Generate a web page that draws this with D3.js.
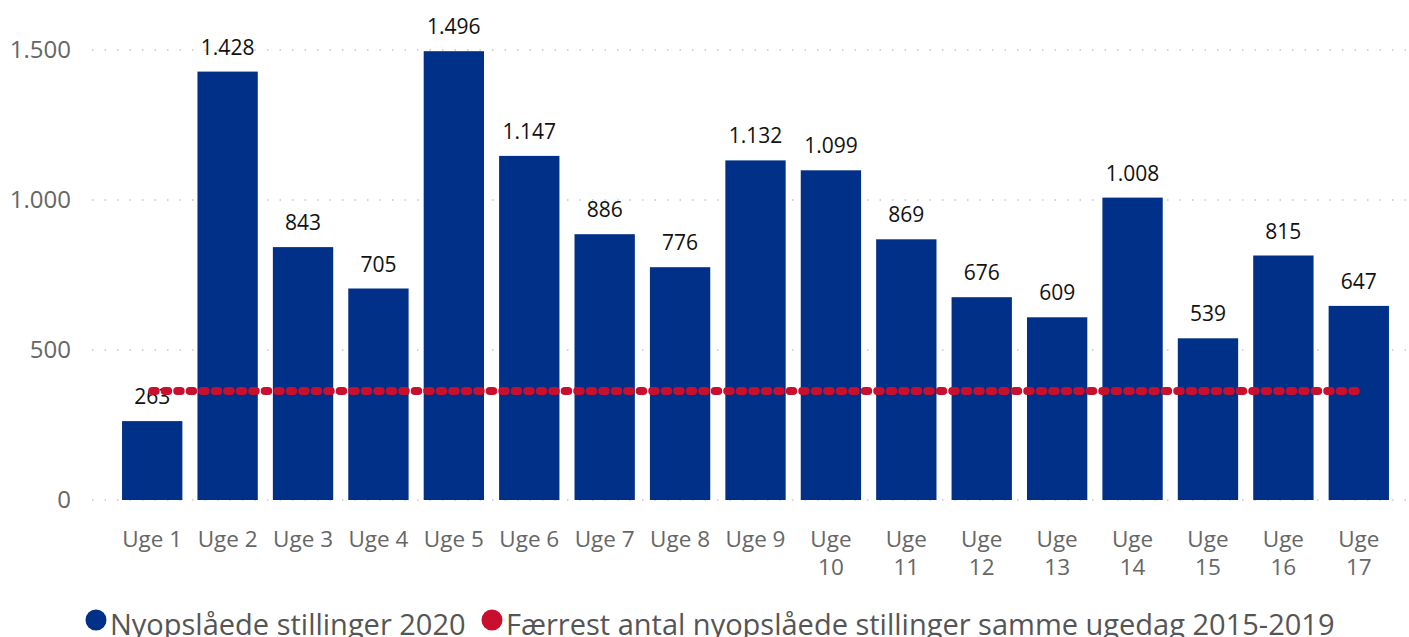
<!DOCTYPE html>
<html>
<head>
<meta charset="utf-8">
<script src="https://cdn.jsdelivr.net/npm/d3@7"></script>
<style>
  body { margin: 0; background: #fff; }
  svg { display: block; font-family: "Open Sans", "Noto Sans", sans-serif; }
</style>
</head>
<body>
<svg id="chart" width="1409" height="637"></svg>
<script>
// Data
const weeks = ['Uge 1', 'Uge 2', 'Uge 3', 'Uge 4', 'Uge 5', 'Uge 6', 'Uge 7', 'Uge 8', 'Uge 9',
               'Uge 10', 'Uge 11', 'Uge 12', 'Uge 13', 'Uge 14', 'Uge 15', 'Uge 16', 'Uge 17'];
const postings2020 = [263, 1428, 843, 705, 1496, 1147, 886, 776, 1132, 1099, 869, 676, 609, 1008, 539, 815, 647];
const minSameWeekday = [363, 363, 363, 363, 363, 363, 363, 363, 363, 363, 363, 363, 363, 363, 363, 363, 363];
const yTicks = [0, 500, 1000, 1500];
const seriesNames = ['Nyopslåede stillinger 2020', 'Færrest antal nyopslåede stillinger samme ugedag 2015-2019'];

const BLUE = '#003087';
const RED = '#c8102e';

const da = d3.formatLocale({ decimal: ',', thousands: '.', grouping: [3], currency: ['', ' kr'] });
const fmt = da.format(',d');

const svg = d3.select('#chart');

const x = d3.scaleBand()
    .domain(weeks)
    .range([114.5, 1396.5])
    .paddingInner(0.2)
    .paddingOuter(0.1);

const y = d3.scaleLinear()
    .domain([0, 1500])
    .range([500, 50]);

// Gridlines (dotted)
svg.append('g')
    .selectAll('line')
    .data(yTicks)
    .join('line')
    .attr('x1', 92)
    .attr('x2', 1409)
    .attr('y1', d => y(d))
    .attr('y2', d => y(d))
    .attr('stroke', '#c8c8c8')
    .attr('stroke-width', 1.5)
    .attr('stroke-dasharray', '1.5 11');

// Y axis labels
const yAxis = d3.axisLeft(y).tickValues(yTicks).tickFormat(fmt).tickSize(0).tickPadding(0);
svg.append('g')
    .attr('transform', 'translate(71,0)')
    .call(yAxis)
    .call(g => g.select('.domain').remove())
    .call(g => g.selectAll('text')
        .attr('fill', '#666')
        .attr('font-size', '24px')
        .attr('font-family', '"Open Sans", "Noto Sans", sans-serif'));

// Bars
svg.append('g')
    .selectAll('rect')
    .data(postings2020)
    .join('rect')
    .attr('x', (d, i) => x(weeks[i]))
    .attr('width', x.bandwidth())
    .attr('y', d => y(d))
    .attr('height', d => y(0) - y(d))
    .attr('fill', BLUE);

// Data labels
svg.append('g')
    .selectAll('text')
    .data(postings2020)
    .join('text')
    .attr('x', (d, i) => x(weeks[i]) + x.bandwidth() / 2)
    .attr('y', d => y(d) - 17)
    .attr('text-anchor', 'middle')
    .attr('font-size', '21px')
    .attr('fill', '#111')
    .text(d => fmt(d));

// Red dotted line
const line = d3.line()
    .x((d, i) => x(weeks[i]) + x.bandwidth() / 2)
    .y(d => y(d));

svg.append('path')
    .datum(minSameWeekday)
    .attr('d', line)
    .attr('fill', 'none')
    .attr('stroke', RED)
    .attr('stroke-width', 8)
    .attr('stroke-linecap', 'round')
    .attr('stroke-dasharray', '3.5 9');

// X axis labels (wrapped)
const xLabels = svg.append('g')
    .selectAll('text')
    .data(weeks)
    .join('text')
    .attr('x', d => x(d) + x.bandwidth() / 2)
    .attr('y', 547)
    .attr('text-anchor', 'middle')
    .attr('font-size', '22.5px')
    .attr('fill', '#666');

xLabels.each(function (d) {
    const num = +d.split(' ')[1];
    const t = d3.select(this);
    if (num < 10) {
        t.text(d);
    } else {
        t.append('tspan').attr('x', t.attr('x')).text('Uge');
        t.append('tspan').attr('x', t.attr('x')).attr('dy', 28).text(num);
    }
});

// Legend
const legend = svg.append('g').attr('font-size', '29px').attr('fill', '#555');
const legendItems = [
    { name: seriesNames[0], color: BLUE, cx: 96 },
    { name: seriesNames[1], color: RED, cx: 492 }
];
legendItems.forEach(item => {
    legend.append('circle')
        .attr('cx', item.cx)
        .attr('cy', 620)
        .attr('r', 10.5)
        .attr('fill', item.color);
    legend.append('text')
        .attr('x', item.cx + 14)
        .attr('y', 635)
        .text(item.name);
});
</script>
</body>
</html>
